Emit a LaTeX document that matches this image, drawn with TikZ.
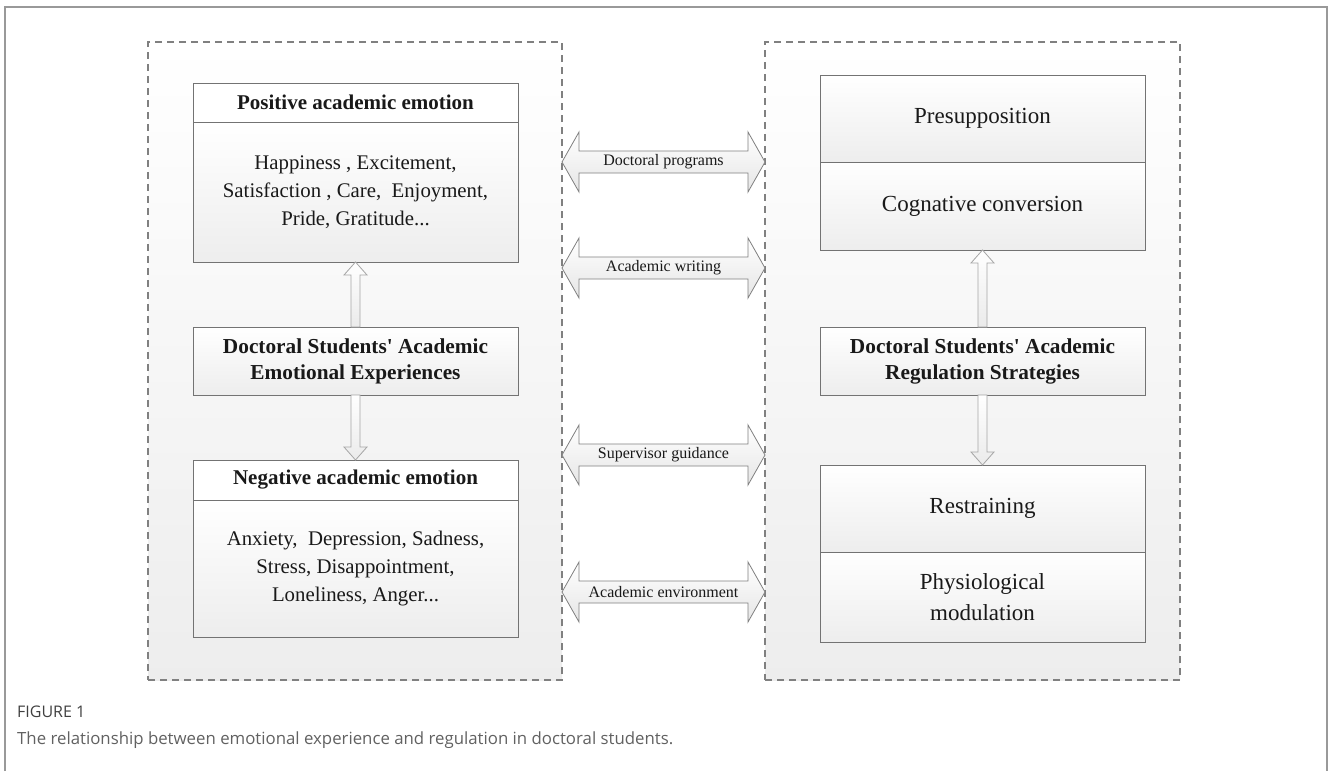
\documentclass[tikz,border=0pt]{standalone}
\usepackage{fontspec}
\setmainfont{Liberation Serif}[Ligatures=TeXOff]
\newfontfamily\capfont{Open Sans}
\usetikzlibrary{calc}

\newcommand\dblarrow[2]{%
  \draw[harrow] (gL.east |- #1) -- ++(17,-30) -- ++(0,19) -- ($(gR.west |- #1)+(-17,-11)$) -- ++(0,-19) -- (gR.west |- #1) -- ++(-17,30) -- ++(0,-19) -- ($(gL.east |- #1)+(17,11)$) -- ++(0,19) -- cycle;
  \node[alabel] at ($(gL.east |- #1)!0.5!(gR.west |- #1)$) {#2};
}
\newcommand\uparr[2]{% #1 lower node (tail), #2 upper node (tip)
  \draw[varrow] ($(#1.north)+(-4.5,0)$) -- ($(#2.south)+(-4.5,13)$) -- ($(#2.south)+(-11.5,13)$) -- (#2.south) -- ($(#2.south)+(11.5,13)$) -- ($(#2.south)+(4.5,13)$) -- ($(#1.north)+(4.5,0)$) -- cycle;
}
\newcommand\downarr[2]{% #1 upper node (tail), #2 lower node (tip)
  \draw[varrow] ($(#1.south)+(-4.5,0)$) -- ($(#2.north)+(-4.5,-13)$) -- ($(#2.north)+(-11.5,-13)$) -- (#2.north) -- ($(#2.north)+(11.5,-13)$) -- ($(#2.north)+(4.5,-13)$) -- ($(#1.south)+(4.5,0)$) -- cycle;
}

\begin{document}
\begin{tikzpicture}[x=1pt,y=-1pt,
  frame/.style={draw=black!40, line width=1.3pt},
  group/.style={draw=black!50, dash pattern=on 7pt off 5pt, line width=1.2pt,
    top color=white, bottom color=black!7, inner sep=0pt, outer sep=0pt},
  seg/.style={draw=black!55, line width=0.9pt, top color=white, bottom color=black!7,
    inner sep=0pt, outer sep=0pt, minimum width=325pt, align=center, text=black!90},
  hdr/.style={seg, top color=white, bottom color=white, font=\fontsize{21}{24}\selectfont\bfseries},
  lbody/.style={seg, font=\fontsize{20.8}{28}\selectfont},
  mid/.style={seg, font=\fontsize{21.3}{26}\selectfont\bfseries},
  rbody/.style={seg, font=\fontsize{23}{31}\selectfont},
  harrow/.style={draw=black!50, line width=0.8pt, top color=white, bottom color=black!10},
  varrow/.style={draw=black!35, line width=0.8pt, top color=white, bottom color=black!8},
  alabel/.style={font=\fontsize{16}{18}\selectfont, text=black!90, inner sep=0pt},
]
\useasboundingbox (0,0) rectangle (1330,771);

% outer frame
\draw[frame] (5,771) -- (5,7) -- (1327,7) -- (1327,771);

% groups
\node[group, minimum width=414pt, minimum height=638pt] (gL) at (355,361) {};
\node[group, minimum width=415pt, minimum height=638pt] (gR) at (972.5,361) {};

% left column
\node[hdr, minimum height=39pt] (posH) at (355.5,102.5) {Positive academic emotion};
\node[lbody, minimum height=140pt] (posB) at (355.5,192) {Happiness , Excitement,\\Satisfaction , Care,\ \ Enjoyment,\\Pride, Gratitude...};
\node[mid, minimum height=68pt] (docL) at (355.5,361) {Doctoral Students' Academic\\Emotional Experiences};
\node[hdr, minimum height=40pt] (negH) at (355.5,480) {Negative academic emotion};
\node[lbody, minimum height=137pt] (negB) at (355.5,568.5) {Anxiety,\ \ Depression, Sadness,\\Stress, Disappointment,\\Loneliness, Anger...};

% right column
\node[rbody, minimum height=87pt] (preS) at (982.5,118.5) {Presupposition};
\node[rbody, minimum height=88pt] (cogS) at (982.5,206) {Cognative conversion};
\node[mid, minimum height=68pt] (docR) at (982.5,361) {Doctoral Students' Academic\\Regulation Strategies};
\node[rbody, minimum height=87pt] (resS) at (982.5,508.5) {Restraining};
\node[rbody, minimum height=90pt] (phyS) at (982.5,597) {Physiological\\modulation};

% vertical arrows
\uparr{docL}{posB}
\downarr{docL}{negH}
\uparr{docR}{cogS}
\downarr{docR}{resS}

% horizontal double arrows
\coordinate (h1) at (0,162);
\coordinate (h2) at (0,268);
\coordinate (h3) at (0,455);
\coordinate (h4) at (0,592);
\dblarrow{h1}{Doctoral programs}
\dblarrow{h2}{Academic writing}
\dblarrow{h3}{Supervisor guidance}
\dblarrow{h4}{Academic environment}

% caption
\node[anchor=west, inner sep=0pt, font=\capfont\fontsize{16}{18}\selectfont, text=black!75] (fig) at (17,712) {FIGURE 1};
\node[anchor=west, inner sep=0pt, font=\capfont\fontsize{16.8}{19}\selectfont, text=black!62] (cap) at (17,740) {The relationship between emotional experience and regulation in doctoral students.};
\end{tikzpicture}
\end{document}
